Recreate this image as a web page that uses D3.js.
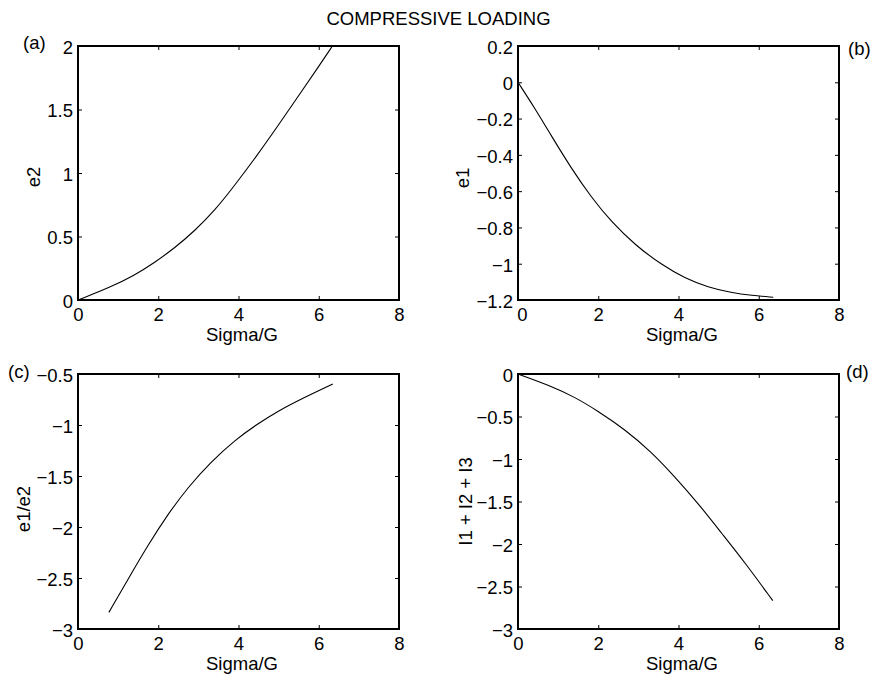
<!DOCTYPE html>
<html>
<head>
<meta charset="utf-8">
<script src="https://cdn.jsdelivr.net/npm/d3@7"></script>
<style>
  body { margin: 0; background: #fff; }
  text { font-family: 'Liberation Sans', Arial, Helvetica, sans-serif; }
</style>
</head>
<body>
<script>
// values (x = Sigma/G)
const aSigma = [0, 0.79, 1.41, 1.91, 2.41, 2.91, 3.41, 3.90, 4.49, 4.98, 5.48, 5.98, 6.34];
const aE2 = [0, 0.098, 0.195, 0.295, 0.41, 0.545, 0.705, 0.90, 1.15, 1.37, 1.60, 1.83, 2.0];

const bSigma = [0, 0.42, 0.83, 1.33, 1.83, 2.33, 2.91, 3.57, 4.16, 4.74, 5.32, 5.82, 6.36];
const bE1 = [0, -0.143, -0.295, -0.475, -0.635, -0.77, -0.895, -1.005, -1.08, -1.13, -1.16, -1.175, -1.185];

const cSigma = [0.77, 1.25, 1.74, 2.24, 2.74, 3.32, 3.90, 4.49, 4.98, 5.56, 6.35];
const cRatio = [-2.837, -2.51, -2.18, -1.875, -1.61, -1.36, -1.15, -0.985, -0.865, -0.745, -0.598];

const dSigma = [0, 0.79, 1.41, 1.99, 2.66, 3.32, 3.90, 4.53, 5.07, 5.65, 6.35];
const dInv = [0, -0.135, -0.27, -0.435, -0.65, -0.915, -1.205, -1.545, -1.87, -2.215, -2.667];

const xTicks = [0, 2, 4, 6, 8];
const aTicks = [0, 0.5, 1, 1.5, 2];
const bTicks = [-1.2, -1, -0.8, -0.6, -0.4, -0.2, 0, 0.2];
const cTicks = [-3, -2.5, -2, -1.5, -1, -0.5];
const dTicks = [-3, -2.5, -2, -1.5, -1, -0.5, 0];

const W = 877;
const H = 681;
const fontSize = 18.5;
const fmt = d3.format('~g');

const svg = d3.create('svg')
  .attr('width', W)
  .attr('height', H)
  .attr('viewBox', `0 0 ${W} ${H}`);

svg.append('text')
  .attr('x', 438.5)
  .attr('y', 25)
  .attr('text-anchor', 'middle')
  .style('font-size', `${fontSize}px`)
  .text('COMPRESSIVE LOADING');

function drawPanel(p) {
  const w = p.right - p.left;
  const h = p.bottom - p.top;

  const x = d3.scaleLinear().domain([0, 8]).range([0, w]);
  const y = d3.scaleLinear().domain(p.yDomain).range([h, 0]);

  const g = svg.append('g')
    .attr('transform', `translate(${p.left}, ${p.top})`);

  const bottomAxis = g.append('g')
    .attr('transform', `translate(0, ${h})`)
    .call(d3.axisBottom(x).tickValues(xTicks).tickFormat(fmt)
      .tickSizeInner(-4).tickSizeOuter(0).tickPadding(8));

  g.append('g')
    .call(d3.axisTop(x).tickValues(xTicks).tickFormat('')
      .tickSizeInner(-4).tickSizeOuter(0));

  const leftAxis = g.append('g')
    .call(d3.axisLeft(y).tickValues(p.yTicks).tickFormat(fmt)
      .tickSizeInner(-4).tickSizeOuter(0).tickPadding(5));

  g.append('g')
    .attr('transform', `translate(${w}, 0)`)
    .call(d3.axisRight(y).tickValues(p.yTicks).tickFormat('')
      .tickSizeInner(-4).tickSizeOuter(0));

  g.selectAll('.domain').remove();
  g.selectAll('.tick line').attr('stroke', '#000').attr('stroke-width', 1);
  g.selectAll('.tick text')
    .attr('fill', '#000')
    .style('font-size', `${fontSize}px`)
    .style('font-family', "'Liberation Sans', Arial, sans-serif");
  leftAxis.selectAll('.tick text').attr('dy', '0.4em');

  // matlab nudges the first x label when it would touch the lowest y label
  if (p.shiftZero) {
    bottomAxis.selectAll('.tick text').filter(d => d === 0).attr('dx', 4);
  }

  const line = d3.line()
    .x(d => x(d[0]))
    .y(d => y(d[1]))
    .curve(d3.curveBasis);

  g.append('path')
    .datum(d3.zip(p.xs, p.ys))
    .attr('d', line)
    .attr('fill', 'none')
    .attr('stroke', '#000')
    .attr('stroke-width', 1.1);

  g.append('rect')
    .attr('width', w)
    .attr('height', h)
    .attr('fill', 'none')
    .attr('stroke', '#000')
    .attr('stroke-width', 2);

  // axis titles
  svg.append('text')
    .attr('x', p.left + w / 2 + 3.5)
    .attr('y', p.bottom + 41)
    .attr('text-anchor', 'middle')
    .style('font-size', `${fontSize}px`)
    .text('Sigma/G');

  svg.append('text')
    .attr('transform', `translate(${p.left - p.yLabelGap}, ${p.yLabelMid}) rotate(-90)`)
    .attr('text-anchor', 'middle')
    .style('font-size', `${fontSize}px`)
    .text(p.yLabel);

  svg.append('text')
    .attr('x', p.tagX)
    .attr('y', p.tagY)
    .style('font-size', `${fontSize}px`)
    .text(p.tag);
}

drawPanel({
  left: 78, right: 399, top: 46, bottom: 300,
  yDomain: [0, 2], yTicks: aTicks, xs: aSigma, ys: aE2,
  yLabel: 'e2', yLabelGap: 38, yLabelMid: 177,
  tag: '(a)', tagX: 23, tagY: 49,
});

drawPanel({
  left: 518, right: 839, top: 46, bottom: 300,
  yDomain: [-1.2, 0.2], yTicks: bTicks, xs: bSigma, ys: bE1,
  yLabel: 'e1', yLabelGap: 49, yLabelMid: 178,
  tag: '(b)', tagX: 848, tagY: 54.5, shiftZero: true,
});

drawPanel({
  left: 78, right: 399, top: 374, bottom: 629,
  yDomain: [-3, -0.5], yTicks: cTicks, xs: cSigma, ys: cRatio,
  yLabel: 'e1/e2', yLabelGap: 48, yLabelMid: 509,
  tag: '(c)', tagX: 8, tagY: 378,
});

drawPanel({
  left: 518, right: 839, top: 374, bottom: 629,
  yDomain: [-3, 0], yTicks: dTicks, xs: dSigma, ys: dInv,
  yLabel: 'I1 + I2 + I3', yLabelGap: 46, yLabelMid: 501.5,
  tag: '(d)', tagX: 846, tagY: 378,
});

d3.select('body')
  .append('div')
  .node()
  .appendChild(svg.node());
</script>
</body>
</html>
